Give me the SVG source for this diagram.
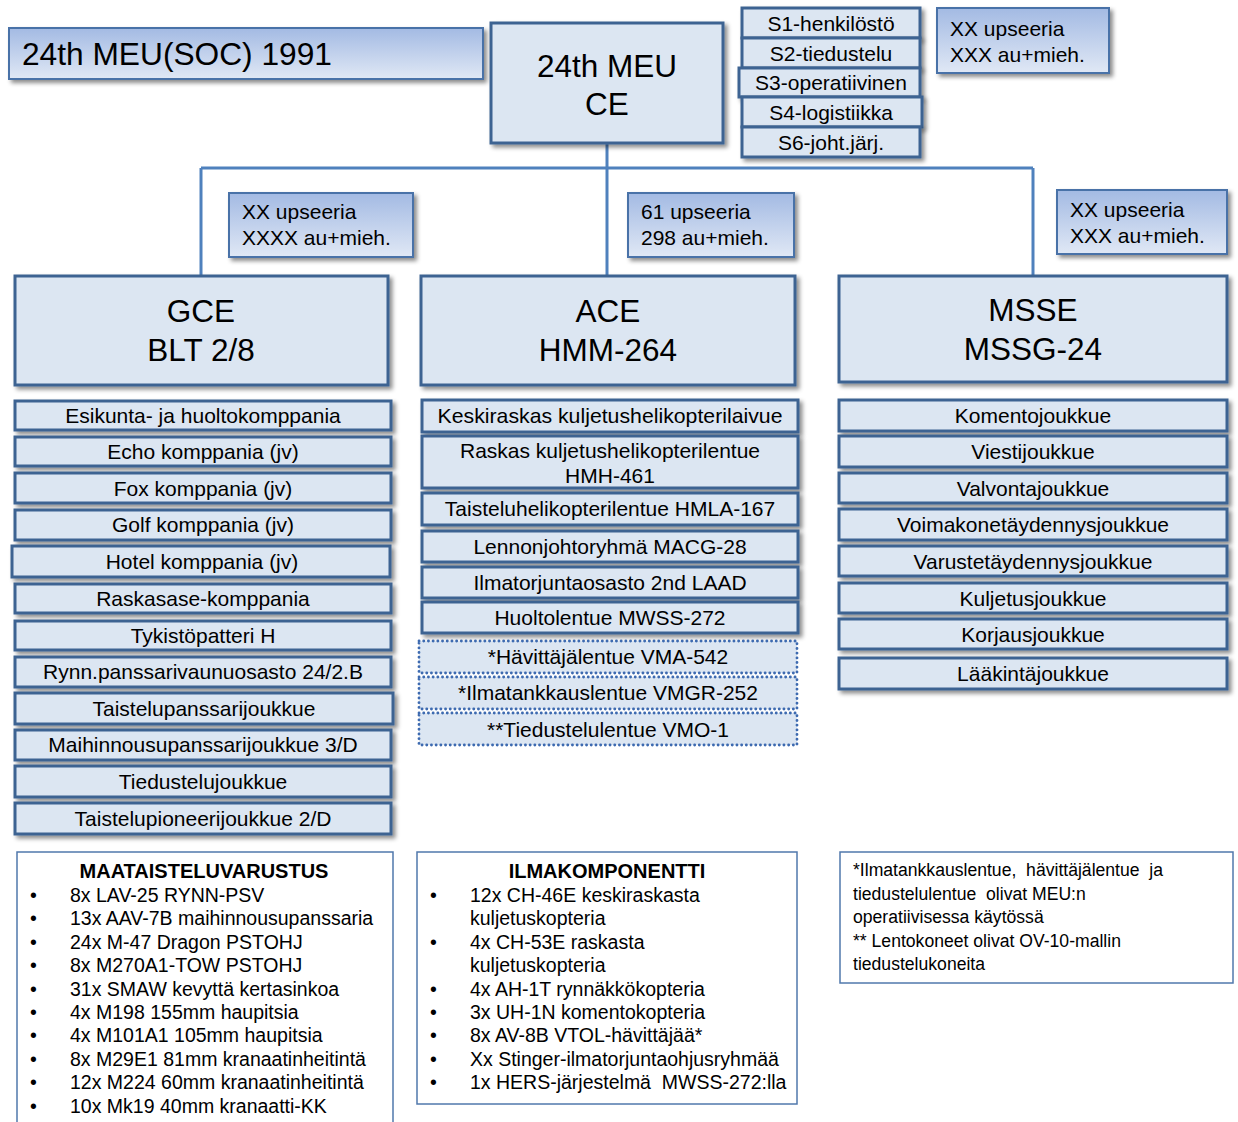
<svg xmlns="http://www.w3.org/2000/svg" width="1238" height="1122" viewBox="0 0 1238 1122">
<defs>
<linearGradient id="grad" x1="0" y1="0" x2="0" y2="1">
<stop offset="0" stop-color="#a3bae3"/>
<stop offset="1" stop-color="#e0e8f5"/>
</linearGradient>
<filter id="sh" x="-10%" y="-20%" width="130%" height="160%">
<feDropShadow dx="3" dy="3" stdDeviation="2" flood-color="#000" flood-opacity="0.45"/>
</filter>
</defs>
<style>
text{font-family:"Liberation Sans",Arial,sans-serif;fill:#000}
.box{fill:#dce6f2;stroke:#3d6392;stroke-width:3;filter:url(#sh)}
.dot{fill:#dce6f2;stroke:#3d6ab0;stroke-width:2.8;stroke-dasharray:0.1 4.6;stroke-linecap:round}
.gbox{fill:url(#grad);stroke:#4a72a8;stroke-width:2;filter:url(#sh)}
.note{fill:#fff;stroke:#5078ac;stroke-width:1.5}
.big{font-size:31.5px;text-anchor:middle}
.item{font-size:21px;text-anchor:middle}
.small{font-size:21px}
.list{font-size:19.5px}
.ttl{font-size:20px;font-weight:bold;text-anchor:middle}
.conn{stroke:#4f81bd;stroke-width:3;fill:none}
</style>

<g id="connectors">
<line class="conn" x1="607" y1="143" x2="607" y2="276"/>
<line class="conn" x1="201" y1="168" x2="1033" y2="168"/>
<line class="conn" x1="201" y1="168" x2="201" y2="276"/>
<line class="conn" x1="1033" y1="168" x2="1033" y2="276"/>
</g>

<g id="title">
<rect class="gbox" x="9" y="28" width="474" height="51"/>
<text x="22" y="65" style="font-size:31.7px">24th MEU(SOC) 1991</text>
</g>

<g id="ce">
<rect class="box" x="491" y="23" width="232" height="120"/>
<text class="big" x="607" y="77">24th MEU</text>
<text class="big" x="607" y="115">CE</text>
</g>

<g id="staff">
<rect class="box" x="742" y="8" width="178" height="30"/>
<text class="item" x="831" y="31">S1-henkilöstö</text>
<rect class="box" x="742" y="38" width="178" height="30"/>
<text class="item" x="831" y="61">S2-tiedustelu</text>
<rect class="box" x="739" y="68" width="181" height="29"/>
<text class="item" x="831" y="90">S3-operatiivinen</text>
<rect class="box" x="742" y="97" width="180" height="30"/>
<text class="item" x="831" y="120">S4-logistiikka</text>
<rect class="box" x="742" y="127" width="178" height="30"/>
<text class="item" x="831" y="150">S6-joht.järj.</text>
</g>

<g id="ce-strength">
<rect class="gbox" x="937" y="8" width="172" height="65"/>
<text class="small" x="950" y="36">XX upseeria</text>
<text class="small" x="950" y="62">XXX au+mieh.</text>
</g>

<g id="gce-strength">
<rect class="gbox" x="229" y="193" width="184" height="64"/>
<text class="small" x="242" y="219">XX upseeria</text>
<text class="small" x="242" y="245">XXXX au+mieh.</text>
</g>

<g id="ace-strength">
<rect class="gbox" x="628" y="193" width="166" height="64"/>
<text class="small" x="641" y="219">61 upseeria</text>
<text class="small" x="641" y="245">298 au+mieh.</text>
</g>

<g id="msse-strength">
<rect class="gbox" x="1057" y="190" width="170" height="64"/>
<text class="small" x="1070" y="217">XX upseeria</text>
<text class="small" x="1070" y="243">XXX au+mieh.</text>
</g>

<g id="gce">
<rect class="box" x="15" y="276" width="373" height="109"/>
<text class="big" x="201" y="322">GCE</text>
<text class="big" x="201" y="361">BLT 2/8</text>
</g>

<g id="ace">
<rect class="box" x="421" y="276" width="374" height="109"/>
<text class="big" x="608" y="322">ACE</text>
<text class="big" x="608" y="361">HMM-264</text>
</g>

<g id="msse">
<rect class="box" x="839" y="276" width="388" height="106"/>
<text class="big" x="1033" y="321">MSSE</text>
<text class="big" x="1033" y="360">MSSG-24</text>
</g>

<g id="gce-units">
<rect class="box" x="15" y="401" width="376" height="29"/>
<text class="item" x="203" y="423">Esikunta- ja huoltokomppania</text>
<rect class="box" x="15" y="437" width="376" height="29"/>
<text class="item" x="203" y="459">Echo komppania (jv)</text>
<rect class="box" x="15" y="473" width="376" height="30"/>
<text class="item" x="203" y="496">Fox komppania (jv)</text>
<rect class="box" x="15" y="510" width="376" height="30"/>
<text class="item" x="203" y="532">Golf komppania (jv)</text>
<rect class="box" x="12" y="546" width="378" height="31"/>
<text class="item" x="202" y="569">Hotel komppania (jv)</text>
<rect class="box" x="15" y="584" width="376" height="29"/>
<text class="item" x="203" y="606">Raskasase-komppania</text>
<rect class="box" x="15" y="621" width="376" height="29"/>
<text class="item" x="203" y="643">Tykistöpatteri H</text>
<rect class="box" x="15" y="657" width="376" height="30"/>
<text class="item" x="203" y="679">Rynn.panssarivaunuosasto 24/2.B</text>
<rect class="box" x="15" y="693" width="378" height="31"/>
<text class="item" x="204" y="716">Taistelupanssarijoukkue</text>
<rect class="box" x="15" y="730" width="376" height="30"/>
<text class="item" x="203" y="752">Maihinnousupanssarijoukkue 3/D</text>
<rect class="box" x="15" y="766" width="376" height="31"/>
<text class="item" x="203" y="789">Tiedustelujoukkue</text>
<rect class="box" x="15" y="803" width="376" height="31"/>
<text class="item" x="203" y="826">Taistelupioneerijoukkue 2/D</text>
</g>

<g id="ace-units">
<rect class="box" x="422" y="400" width="376" height="32"/>
<text class="item" x="610" y="423" textLength="345" lengthAdjust="spacingAndGlyphs">Keskiraskas kuljetushelikopterilaivue</text>
<rect class="box" x="422" y="436" width="376" height="52"/>
<text class="item" x="610" y="458">Raskas kuljetushelikopterilentue</text>
<text class="item" x="610" y="483">HMH-461</text>
<rect class="box" x="422" y="493" width="376" height="32"/>
<text class="item" x="610" y="516">Taisteluhelikopterilentue HMLA-167</text>
<rect class="box" x="422" y="531" width="376" height="31"/>
<text class="item" x="610" y="554">Lennonjohtoryhmä MACG-28</text>
<rect class="box" x="422" y="567" width="376" height="31"/>
<text class="item" x="610" y="590">Ilmatorjuntaosasto 2nd LAAD</text>
<rect class="box" x="422" y="602" width="376" height="31"/>
<text class="item" x="610" y="625">Huoltolentue MWSS-272</text>
<rect class="dot" x="419" y="641" width="378" height="32"/>
<text class="item" x="608" y="664">*Hävittäjälentue VMA-542</text>
<rect class="dot" x="419" y="677" width="378" height="32"/>
<text class="item" x="608" y="700">*Ilmatankkauslentue VMGR-252</text>
<rect class="dot" x="419" y="713" width="378" height="32"/>
<text class="item" x="608" y="737">**Tiedustelulentue VMO-1</text>
</g>

<g id="msse-units">
<rect class="box" x="839" y="400" width="388" height="31"/>
<text class="item" x="1033" y="423">Komentojoukkue</text>
<rect class="box" x="839" y="436" width="388" height="31"/>
<text class="item" x="1033" y="459">Viestijoukkue</text>
<rect class="box" x="839" y="473" width="388" height="30"/>
<text class="item" x="1033" y="496">Valvontajoukkue</text>
<rect class="box" x="839" y="509" width="388" height="31"/>
<text class="item" x="1033" y="532">Voimakonetäydennysjoukkue</text>
<rect class="box" x="839" y="546" width="388" height="30"/>
<text class="item" x="1033" y="569">Varustetäydennysjoukkue</text>
<rect class="box" x="839" y="583" width="388" height="30"/>
<text class="item" x="1033" y="606">Kuljetusjoukkue</text>
<rect class="box" x="839" y="619" width="388" height="30"/>
<text class="item" x="1033" y="642">Korjausjoukkue</text>
<rect class="box" x="839" y="658" width="388" height="31"/>
<text class="item" x="1033" y="681">Lääkintäjoukkue</text>
</g>

<g id="ground-equipment">
<path class="note" d="M17,1124 V852 H393 V1124"/>
<text class="ttl" x="204" y="878">MAATAISTELUVARUSTUS</text>
<g class="list">
<text x="30" y="902">•</text><text x="70" y="902">8x LAV-25 RYNN-PSV</text>
<text x="30" y="925">•</text><text x="70" y="925">13x AAV-7B maihinnousupanssaria</text>
<text x="30" y="949">•</text><text x="70" y="949">24x M-47 Dragon PSTOHJ</text>
<text x="30" y="972">•</text><text x="70" y="972">8x M270A1-TOW PSTOHJ</text>
<text x="30" y="996">•</text><text x="70" y="996">31x SMAW kevyttä kertasinkoa</text>
<text x="30" y="1019">•</text><text x="70" y="1019">4x M198 155mm haupitsia</text>
<text x="30" y="1042">•</text><text x="70" y="1042">4x M101A1 105mm haupitsia</text>
<text x="30" y="1066">•</text><text x="70" y="1066">8x M29E1 81mm kranaatinheitintä</text>
<text x="30" y="1089">•</text><text x="70" y="1089">12x M224 60mm kranaatinheitintä</text>
<text x="30" y="1113">•</text><text x="70" y="1113">10x Mk19 40mm kranaatti-KK</text>
</g>
</g>

<g id="air-equipment">
<rect class="note" x="417" y="852" width="380" height="252"/>
<text class="ttl" x="607" y="878">ILMAKOMPONENTTI</text>
<g class="list">
<text x="430" y="902">•</text><text x="470" y="902">12x CH-46E keskiraskasta</text>
<text x="470" y="925">kuljetuskopteria</text>
<text x="430" y="949">•</text><text x="470" y="949">4x CH-53E raskasta</text>
<text x="470" y="972">kuljetuskopteria</text>
<text x="430" y="996">•</text><text x="470" y="996">4x AH-1T rynnäkkökopteria</text>
<text x="430" y="1019">•</text><text x="470" y="1019">3x UH-1N komentokopteria</text>
<text x="430" y="1042">•</text><text x="470" y="1042">8x AV-8B VTOL-hävittäjää*</text>
<text x="430" y="1066">•</text><text x="470" y="1066">Xx Stinger-ilmatorjuntaohjusryhmää</text>
<text x="430" y="1089">•</text><text x="470" y="1089" xml:space="preserve">1x HERS-järjestelmä  MWSS-272:lla</text>
</g>
</g>

<g id="footnote">
<rect class="note" x="840" y="852" width="393" height="131"/>
<g style="font-size:17.6px">
<text x="853" y="876" xml:space="preserve">*Ilmatankkauslentue,  hävittäjälentue  ja</text>
<text x="853" y="900" xml:space="preserve">tiedustelulentue  olivat MEU:n</text>
<text x="853" y="923">operatiivisessa käytössä</text>
<text x="853" y="947">** Lentokoneet olivat OV-10-mallin</text>
<text x="853" y="970">tiedustelukoneita</text>
</g>
</g>
</svg>
